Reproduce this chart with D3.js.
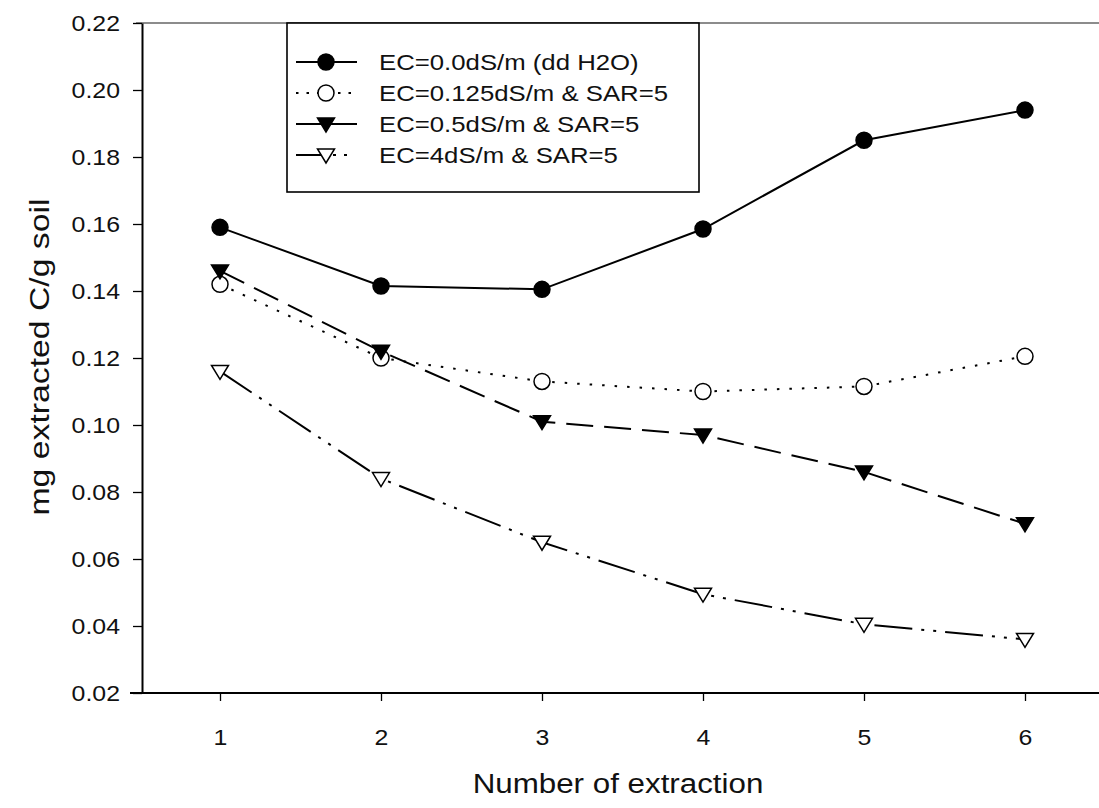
<!DOCTYPE html>
<html>
<head>
<meta charset="utf-8">
<script src="https://cdn.jsdelivr.net/npm/d3@7"></script>
<style>
  html, body { margin: 0; padding: 0; background: #fff; }
  svg { display: block; font-family: "Liberation Sans", Arial, sans-serif; }
</style>
</head>
<body>
<svg id="chart" width="1099" height="808"></svg>
<script>
// Extraction number (x) and extracted carbon per series (mg C / g soil)
const extraction = [1, 2, 3, 4, 5, 6];
const ecZero    = [0.159, 0.1415, 0.1405, 0.1585, 0.185, 0.194];
const ecQuarter = [0.142, 0.120, 0.113, 0.110, 0.1115, 0.1205];
const ecHalf    = [0.146, 0.122, 0.101, 0.097, 0.086, 0.0705];
const ecFour    = [0.116, 0.084, 0.065, 0.0495, 0.0405, 0.036];

const seriesNames = [
  "EC=0.0dS/m (dd H2O)",
  "EC=0.125dS/m & SAR=5",
  "EC=0.5dS/m & SAR=5",
  "EC=4dS/m & SAR=5"
];
const yTicks = [0.02, 0.04, 0.06, 0.08, 0.10, 0.12, 0.14, 0.16, 0.18, 0.20, 0.22];
const xTicks = [1, 2, 3, 4, 5, 6];
const xTitle = "Number of extraction";
const yTitle = "mg extracted C/g soil";

const frame = { left: 142, right: 1099, top: 23, bottom: 693 };

const svg = d3.select("#chart");

const x = d3.scaleLinear().domain([1, 6]).range([220, 1025]);
const y = d3.scaleLinear().domain([0.02, 0.22]).range([frame.bottom, frame.top]);

// Widen glyphs horizontally by a factor (the typeface here runs wide)
function widen(sel, factor) {
  sel.each(function () {
    const w = this.getComputedTextLength();
    d3.select(this).attr("textLength", w * factor).attr("lengthAdjust", "spacingAndGlyphs");
  });
}

// Marker shapes
const tri = "M-8.5,-6L8.5,-6L0,8Z";
const styles = [
  { dash: null,           marker: "circle", fill: "#000" },
  { dash: "2.5,10",       marker: "circle", fill: "#fff" },
  { dash: "27,11",        marker: "tri",    fill: "#000" },
  { dash: "38,9,3,9,3,9", marker: "tri",    fill: "#fff" }
];
const values = [ecZero, ecQuarter, ecHalf, ecFour];

// Frame: top border line and left/bottom axes
svg.append("line")
  .attr("x1", frame.left - 6).attr("x2", frame.right)
  .attr("y1", frame.top).attr("y2", frame.top)
  .attr("stroke", "#666").attr("stroke-width", 1.6);

const yAxis = d3.axisLeft(y).tickValues(yTicks).tickFormat(d3.format(".2f"))
  .tickSize(9).tickSizeOuter(0).tickPadding(13);
const gy = svg.append("g").attr("transform", `translate(${frame.left},0)`).call(yAxis);
gy.attr("font-size", null).attr("font-family", null);
gy.select(".domain").attr("stroke", "#000").attr("stroke-width", 2);
gy.selectAll(".tick line").attr("stroke", "#000").attr("stroke-width", 1.3);
gy.selectAll(".tick text").style("font-size", "22px").attr("fill", "#111");
widen(gy.selectAll(".tick text"), 1.13);

const xAxis = d3.axisBottom(x).tickValues(xTicks).tickFormat(d3.format("d"))
  .tickSize(8).tickSizeOuter(0).tickPadding(28);
const gx = svg.append("g").attr("transform", `translate(0,${frame.bottom})`).call(xAxis);
gx.attr("font-size", null).attr("font-family", null);
gx.select(".domain").remove();
gx.selectAll(".tick line").attr("stroke", "#000").attr("stroke-width", 1.3);
gx.selectAll(".tick text").style("font-size", "22px").attr("fill", "#111");
widen(gx.selectAll(".tick text"), 1.13);
svg.append("line")
  .attr("x1", frame.left - 12).attr("x2", frame.right)
  .attr("y1", frame.bottom).attr("y2", frame.bottom)
  .attr("stroke", "#000").attr("stroke-width", 2.2);

// Axis titles
const xt = svg.append("text")
  .attr("x", 618).attr("y", 793)
  .attr("text-anchor", "middle")
  .style("font-size", "27px").attr("fill", "#111")
  .text(xTitle);
widen(xt, 1.16);
const yt = svg.append("text")
  .attr("transform", "translate(49,357) rotate(-90)")
  .attr("text-anchor", "middle")
  .style("font-size", "27px").attr("fill", "#111")
  .text(yTitle);
widen(yt, 1.25);

// Series lines and markers
const line = d3.line().x((d, i) => x(extraction[i])).y(d => y(d));

function drawMarker(g, s, cx, cy) {
  if (s.marker === "circle") {
    g.append("circle").attr("cx", cx).attr("cy", cy).attr("r", 8)
      .attr("fill", s.fill).attr("stroke", "#000").attr("stroke-width", 1.5);
  } else {
    g.append("path").attr("d", tri)
      .attr("transform", `translate(${cx},${cy})`)
      .attr("fill", s.fill).attr("stroke", "#000").attr("stroke-width", 1.5);
  }
}

values.forEach((vals, k) => {
  const s = styles[k];
  const g = svg.append("g");
  g.append("path").datum(vals)
    .attr("d", line)
    .attr("fill", "none").attr("stroke", "#000").attr("stroke-width", 2)
    .attr("stroke-dasharray", s.dash);
  vals.forEach((v, i) => drawMarker(g, s, x(extraction[i]), y(v)));
});

// Legend
const lg = svg.append("g");
lg.append("rect")
  .attr("x", 287).attr("y", frame.top).attr("width", 412).attr("height", 169)
  .attr("fill", "#fff").attr("stroke", "#000").attr("stroke-width", 1.6);
const rowY = [62, 93, 124, 155];
const legendDash = [null, "2.5,8", "26,0", "29,8,3,8,3,12"];
seriesNames.forEach((name, k) => {
  const s = styles[k];
  const yy = rowY[k];
  lg.append("line").attr("x1", 296).attr("x2", 357).attr("y1", yy).attr("y2", yy)
    .attr("stroke", "#000").attr("stroke-width", 1.8)
    .attr("stroke-dasharray", legendDash[k]);
  drawMarker(lg, s, 326, yy);
  const t = lg.append("text").attr("x", 379).attr("y", yy)
    .attr("dominant-baseline", "central")
    .style("font-size", "22px").attr("fill", "#111")
    .text(name);
  widen(t, 1.17);
});
</script>
</body>
</html>
